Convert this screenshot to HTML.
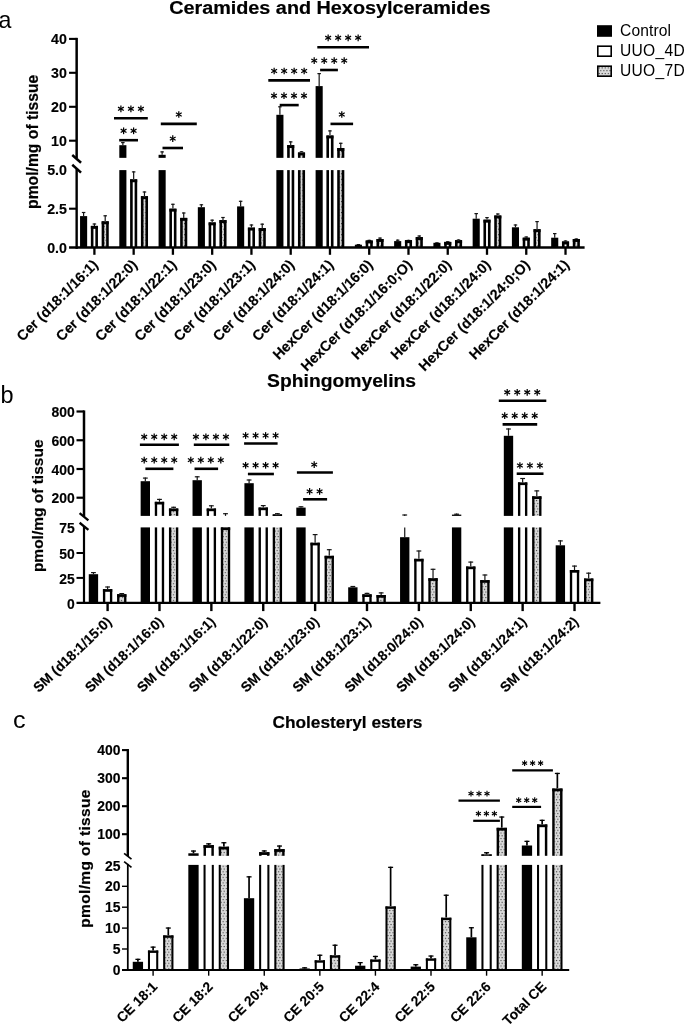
<!DOCTYPE html>
<html><head><meta charset="utf-8"><title>figure</title>
<style>html,body{margin:0;padding:0;background:#fff}svg{display:block;will-change:transform}</style></head>
<body>
<svg width="685" height="1024" viewBox="0 0 685 1024">
<defs>
<pattern id="dots" width="3.1" height="5.54" patternUnits="userSpaceOnUse">
<rect width="3.1" height="5.54" fill="#dadada"/>
<rect x="0.3" y="0.9" width="1.1" height="1.1" fill="#3a3a3a"/>
<rect x="1.85" y="3.67" width="1.1" height="1.1" fill="#3a3a3a"/>
</pattern>
</defs>
<rect width="685" height="1024" fill="#fff"/>
<g font-family="Liberation Sans, sans-serif" font-weight="bold" stroke="#000" stroke-width="0.2" text-anchor="middle">
<text font-size="19.1" x="329.8" y="13.7" textLength="321.3" lengthAdjust="spacingAndGlyphs">Ceramides and Hexosylceramides</text>
<text font-size="18.7" x="341.6" y="387" textLength="149" lengthAdjust="spacingAndGlyphs">Sphingomyelins</text>
<text font-size="17.3" x="347.4" y="727.5">Cholesteryl esters</text>
</g>
<g font-family="Liberation Sans, sans-serif">
<text font-size="23.2" x="-1.4" y="28.4">a</text><text font-size="23.5" x="0.5" y="403.3">b</text><text font-size="23.8" x="12.9" y="728.3" textLength="12.6" lengthAdjust="spacingAndGlyphs">c</text></g>
<rect x="597" y="25.2" width="15" height="11.6" fill="#000"/>
<rect x="597.8" y="46.2" width="13.4" height="10" fill="#fff" stroke="#000" stroke-width="1.6"/>
<rect x="597.8" y="66.2" width="13.4" height="10" fill="url(#dots)" stroke="#000" stroke-width="1.6"/>
<g font-family="Liberation Sans, sans-serif" font-size="15.6" letter-spacing="0.12">
<text x="620" y="35.9">Control</text><text x="620" y="55.7" letter-spacing="0.3">UUO_4D</text><text x="620" y="75.5" letter-spacing="0.3">UUO_7D</text></g>
<line x1="83.60" y1="216.10" x2="83.60" y2="211.90" stroke="#151515" stroke-width="1.20"/>
<line x1="81.85" y1="212.50" x2="85.35" y2="212.50" stroke="#151515" stroke-width="1.20"/>
<rect x="80.05" y="216.10" width="7.10" height="31.50" fill="#000"/>
<line x1="94.40" y1="225.90" x2="94.40" y2="223.40" stroke="#151515" stroke-width="1.20"/>
<line x1="92.65" y1="224.00" x2="96.15" y2="224.00" stroke="#151515" stroke-width="1.20"/>
<rect x="90.85" y="225.90" width="2.60" height="21.70" fill="#000"/>
<rect x="95.35" y="225.90" width="2.60" height="21.70" fill="#000"/>
<rect x="90.85" y="225.90" width="7.10" height="2.95" fill="#000"/>
<line x1="105.20" y1="221.30" x2="105.20" y2="215.20" stroke="#151515" stroke-width="1.20"/>
<line x1="103.45" y1="215.80" x2="106.95" y2="215.80" stroke="#151515" stroke-width="1.20"/>
<rect x="103.95" y="221.30" width="2.50" height="26.30" fill="url(#d0)"/>
<rect x="101.65" y="221.30" width="2.60" height="26.30" fill="#000"/>
<rect x="106.15" y="221.30" width="2.60" height="26.30" fill="#000"/>
<rect x="101.65" y="221.30" width="7.10" height="2.95" fill="#000"/>
<rect x="119.31" y="170.10" width="7.10" height="77.50" fill="#000"/>
<line x1="122.86" y1="145.20" x2="122.86" y2="142.00" stroke="#151515" stroke-width="1.20"/>
<line x1="121.11" y1="142.60" x2="124.61" y2="142.60" stroke="#151515" stroke-width="1.20"/>
<rect x="119.31" y="145.20" width="7.10" height="12.65" fill="#000"/>
<line x1="133.66" y1="179.30" x2="133.66" y2="171.30" stroke="#151515" stroke-width="1.20"/>
<line x1="131.91" y1="171.90" x2="135.41" y2="171.90" stroke="#151515" stroke-width="1.20"/>
<rect x="130.11" y="179.30" width="2.60" height="68.30" fill="#000"/>
<rect x="134.61" y="179.30" width="2.60" height="68.30" fill="#000"/>
<rect x="130.11" y="179.30" width="7.10" height="2.95" fill="#000"/>
<line x1="144.46" y1="196.20" x2="144.46" y2="191.40" stroke="#151515" stroke-width="1.20"/>
<line x1="142.71" y1="192.00" x2="146.21" y2="192.00" stroke="#151515" stroke-width="1.20"/>
<rect x="143.21" y="196.20" width="2.50" height="51.40" fill="url(#d1)"/>
<rect x="140.91" y="196.20" width="2.60" height="51.40" fill="#000"/>
<rect x="145.41" y="196.20" width="2.60" height="51.40" fill="#000"/>
<rect x="140.91" y="196.20" width="7.10" height="2.95" fill="#000"/>
<rect x="158.57" y="170.10" width="7.10" height="77.50" fill="#000"/>
<line x1="162.12" y1="154.80" x2="162.12" y2="151.30" stroke="#151515" stroke-width="1.20"/>
<line x1="160.37" y1="151.90" x2="163.87" y2="151.90" stroke="#151515" stroke-width="1.20"/>
<rect x="158.57" y="154.80" width="7.10" height="3.05" fill="#000"/>
<line x1="172.92" y1="208.70" x2="172.92" y2="203.70" stroke="#151515" stroke-width="1.20"/>
<line x1="171.17" y1="204.30" x2="174.67" y2="204.30" stroke="#151515" stroke-width="1.20"/>
<rect x="169.37" y="208.70" width="2.60" height="38.90" fill="#000"/>
<rect x="173.87" y="208.70" width="2.60" height="38.90" fill="#000"/>
<rect x="169.37" y="208.70" width="7.10" height="2.95" fill="#000"/>
<line x1="183.72" y1="217.90" x2="183.72" y2="212.40" stroke="#151515" stroke-width="1.20"/>
<line x1="181.97" y1="213.00" x2="185.47" y2="213.00" stroke="#151515" stroke-width="1.20"/>
<rect x="182.47" y="217.90" width="2.50" height="29.70" fill="url(#d2)"/>
<rect x="180.17" y="217.90" width="2.60" height="29.70" fill="#000"/>
<rect x="184.67" y="217.90" width="2.60" height="29.70" fill="#000"/>
<rect x="180.17" y="217.90" width="7.10" height="2.95" fill="#000"/>
<line x1="201.38" y1="207.20" x2="201.38" y2="204.20" stroke="#151515" stroke-width="1.20"/>
<line x1="199.63" y1="204.80" x2="203.13" y2="204.80" stroke="#151515" stroke-width="1.20"/>
<rect x="197.83" y="207.20" width="7.10" height="40.40" fill="#000"/>
<line x1="212.18" y1="222.40" x2="212.18" y2="219.60" stroke="#151515" stroke-width="1.20"/>
<line x1="210.43" y1="220.20" x2="213.93" y2="220.20" stroke="#151515" stroke-width="1.20"/>
<rect x="208.63" y="222.40" width="2.60" height="25.20" fill="#000"/>
<rect x="213.13" y="222.40" width="2.60" height="25.20" fill="#000"/>
<rect x="208.63" y="222.40" width="7.10" height="2.95" fill="#000"/>
<line x1="222.98" y1="220.10" x2="222.98" y2="216.90" stroke="#151515" stroke-width="1.20"/>
<line x1="221.23" y1="217.50" x2="224.73" y2="217.50" stroke="#151515" stroke-width="1.20"/>
<rect x="221.73" y="220.10" width="2.50" height="27.50" fill="url(#d3)"/>
<rect x="219.43" y="220.10" width="2.60" height="27.50" fill="#000"/>
<rect x="223.93" y="220.10" width="2.60" height="27.50" fill="#000"/>
<rect x="219.43" y="220.10" width="7.10" height="2.95" fill="#000"/>
<line x1="240.64" y1="206.40" x2="240.64" y2="200.70" stroke="#151515" stroke-width="1.20"/>
<line x1="238.89" y1="201.30" x2="242.39" y2="201.30" stroke="#151515" stroke-width="1.20"/>
<rect x="237.09" y="206.40" width="7.10" height="41.20" fill="#000"/>
<line x1="251.44" y1="227.60" x2="251.44" y2="224.40" stroke="#151515" stroke-width="1.20"/>
<line x1="249.69" y1="225.00" x2="253.19" y2="225.00" stroke="#151515" stroke-width="1.20"/>
<rect x="247.89" y="227.60" width="2.60" height="20.00" fill="#000"/>
<rect x="252.39" y="227.60" width="2.60" height="20.00" fill="#000"/>
<rect x="247.89" y="227.60" width="7.10" height="2.95" fill="#000"/>
<line x1="262.24" y1="228.10" x2="262.24" y2="223.60" stroke="#151515" stroke-width="1.20"/>
<line x1="260.49" y1="224.20" x2="263.99" y2="224.20" stroke="#151515" stroke-width="1.20"/>
<rect x="260.99" y="228.10" width="2.50" height="19.50" fill="url(#d4)"/>
<rect x="258.69" y="228.10" width="2.60" height="19.50" fill="#000"/>
<rect x="263.19" y="228.10" width="2.60" height="19.50" fill="#000"/>
<rect x="258.69" y="228.10" width="7.10" height="2.95" fill="#000"/>
<rect x="276.35" y="170.10" width="7.10" height="77.50" fill="#000"/>
<line x1="279.90" y1="114.80" x2="279.90" y2="106.20" stroke="#151515" stroke-width="1.20"/>
<line x1="278.15" y1="106.80" x2="281.65" y2="106.80" stroke="#151515" stroke-width="1.20"/>
<rect x="276.35" y="114.80" width="7.10" height="43.05" fill="#000"/>
<rect x="287.15" y="170.10" width="2.60" height="77.50" fill="#000"/>
<rect x="291.65" y="170.10" width="2.60" height="77.50" fill="#000"/>
<line x1="290.70" y1="145.10" x2="290.70" y2="141.30" stroke="#151515" stroke-width="1.20"/>
<line x1="288.95" y1="141.90" x2="292.45" y2="141.90" stroke="#151515" stroke-width="1.20"/>
<rect x="287.15" y="145.10" width="2.60" height="12.75" fill="#000"/>
<rect x="291.65" y="145.10" width="2.60" height="12.75" fill="#000"/>
<rect x="287.15" y="145.10" width="7.10" height="2.95" fill="#000"/>
<rect x="300.25" y="170.10" width="2.50" height="77.50" fill="url(#d5)"/>
<rect x="297.95" y="170.10" width="2.60" height="77.50" fill="#000"/>
<rect x="302.45" y="170.10" width="2.60" height="77.50" fill="#000"/>
<line x1="301.50" y1="152.50" x2="301.50" y2="151.20" stroke="#151515" stroke-width="1.20"/>
<line x1="299.75" y1="151.80" x2="303.25" y2="151.80" stroke="#151515" stroke-width="1.20"/>
<rect x="300.25" y="152.50" width="2.50" height="5.35" fill="url(#d5)"/>
<rect x="297.95" y="152.50" width="2.60" height="5.35" fill="#000"/>
<rect x="302.45" y="152.50" width="2.60" height="5.35" fill="#000"/>
<rect x="297.95" y="152.50" width="7.10" height="2.95" fill="#000"/>
<rect x="315.61" y="170.10" width="7.10" height="77.50" fill="#000"/>
<line x1="319.16" y1="86.10" x2="319.16" y2="73.00" stroke="#151515" stroke-width="1.20"/>
<line x1="317.41" y1="73.60" x2="320.91" y2="73.60" stroke="#151515" stroke-width="1.20"/>
<rect x="315.61" y="86.10" width="7.10" height="71.75" fill="#000"/>
<rect x="326.41" y="170.10" width="2.60" height="77.50" fill="#000"/>
<rect x="330.91" y="170.10" width="2.60" height="77.50" fill="#000"/>
<line x1="329.96" y1="135.50" x2="329.96" y2="130.30" stroke="#151515" stroke-width="1.20"/>
<line x1="328.21" y1="130.90" x2="331.71" y2="130.90" stroke="#151515" stroke-width="1.20"/>
<rect x="326.41" y="135.50" width="2.60" height="22.35" fill="#000"/>
<rect x="330.91" y="135.50" width="2.60" height="22.35" fill="#000"/>
<rect x="326.41" y="135.50" width="7.10" height="2.95" fill="#000"/>
<rect x="339.51" y="170.10" width="2.50" height="77.50" fill="url(#d6)"/>
<rect x="337.21" y="170.10" width="2.60" height="77.50" fill="#000"/>
<rect x="341.71" y="170.10" width="2.60" height="77.50" fill="#000"/>
<line x1="340.76" y1="148.00" x2="340.76" y2="142.70" stroke="#151515" stroke-width="1.20"/>
<line x1="339.01" y1="143.30" x2="342.51" y2="143.30" stroke="#151515" stroke-width="1.20"/>
<rect x="339.51" y="148.00" width="2.50" height="9.85" fill="url(#d6)"/>
<rect x="337.21" y="148.00" width="2.60" height="9.85" fill="#000"/>
<rect x="341.71" y="148.00" width="2.60" height="9.85" fill="#000"/>
<rect x="337.21" y="148.00" width="7.10" height="2.95" fill="#000"/>
<line x1="358.42" y1="244.70" x2="358.42" y2="244.00" stroke="#151515" stroke-width="1.20"/>
<line x1="356.67" y1="244.60" x2="360.17" y2="244.60" stroke="#151515" stroke-width="1.20"/>
<rect x="354.87" y="244.70" width="7.10" height="2.90" fill="#000"/>
<line x1="369.22" y1="240.50" x2="369.22" y2="239.80" stroke="#151515" stroke-width="1.20"/>
<line x1="367.47" y1="240.40" x2="370.97" y2="240.40" stroke="#151515" stroke-width="1.20"/>
<rect x="365.67" y="240.50" width="2.60" height="7.10" fill="#000"/>
<rect x="370.17" y="240.50" width="2.60" height="7.10" fill="#000"/>
<rect x="365.67" y="240.50" width="7.10" height="2.95" fill="#000"/>
<line x1="380.02" y1="239.00" x2="380.02" y2="237.50" stroke="#151515" stroke-width="1.20"/>
<line x1="378.27" y1="238.10" x2="381.77" y2="238.10" stroke="#151515" stroke-width="1.20"/>
<rect x="378.77" y="239.00" width="2.50" height="8.60" fill="url(#d7)"/>
<rect x="376.47" y="239.00" width="2.60" height="8.60" fill="#000"/>
<rect x="380.97" y="239.00" width="2.60" height="8.60" fill="#000"/>
<rect x="376.47" y="239.00" width="7.10" height="2.95" fill="#000"/>
<line x1="397.68" y1="241.10" x2="397.68" y2="239.60" stroke="#151515" stroke-width="1.20"/>
<line x1="395.93" y1="240.20" x2="399.43" y2="240.20" stroke="#151515" stroke-width="1.20"/>
<rect x="394.13" y="241.10" width="7.10" height="6.50" fill="#000"/>
<line x1="408.48" y1="240.20" x2="408.48" y2="239.80" stroke="#151515" stroke-width="1.20"/>
<line x1="406.73" y1="240.40" x2="410.23" y2="240.40" stroke="#151515" stroke-width="1.20"/>
<rect x="404.93" y="240.20" width="2.60" height="7.40" fill="#000"/>
<rect x="409.43" y="240.20" width="2.60" height="7.40" fill="#000"/>
<rect x="404.93" y="240.20" width="7.10" height="2.95" fill="#000"/>
<line x1="419.28" y1="237.10" x2="419.28" y2="235.40" stroke="#151515" stroke-width="1.20"/>
<line x1="417.53" y1="236.00" x2="421.03" y2="236.00" stroke="#151515" stroke-width="1.20"/>
<rect x="418.03" y="237.10" width="2.50" height="10.50" fill="url(#d8)"/>
<rect x="415.73" y="237.10" width="2.60" height="10.50" fill="#000"/>
<rect x="420.23" y="237.10" width="2.60" height="10.50" fill="#000"/>
<rect x="415.73" y="237.10" width="7.10" height="2.95" fill="#000"/>
<line x1="436.94" y1="242.80" x2="436.94" y2="242.30" stroke="#151515" stroke-width="1.20"/>
<line x1="435.19" y1="242.90" x2="438.69" y2="242.90" stroke="#151515" stroke-width="1.20"/>
<rect x="433.39" y="242.80" width="7.10" height="4.80" fill="#000"/>
<line x1="447.74" y1="241.90" x2="447.74" y2="241.20" stroke="#151515" stroke-width="1.20"/>
<line x1="445.99" y1="241.80" x2="449.49" y2="241.80" stroke="#151515" stroke-width="1.20"/>
<rect x="444.19" y="241.90" width="2.60" height="5.70" fill="#000"/>
<rect x="448.69" y="241.90" width="2.60" height="5.70" fill="#000"/>
<rect x="444.19" y="241.90" width="7.10" height="2.95" fill="#000"/>
<line x1="458.54" y1="240.20" x2="458.54" y2="239.40" stroke="#151515" stroke-width="1.20"/>
<line x1="456.79" y1="240.00" x2="460.29" y2="240.00" stroke="#151515" stroke-width="1.20"/>
<rect x="457.29" y="240.20" width="2.50" height="7.40" fill="url(#d9)"/>
<rect x="454.99" y="240.20" width="2.60" height="7.40" fill="#000"/>
<rect x="459.49" y="240.20" width="2.60" height="7.40" fill="#000"/>
<rect x="454.99" y="240.20" width="7.10" height="2.95" fill="#000"/>
<line x1="476.20" y1="218.70" x2="476.20" y2="213.00" stroke="#151515" stroke-width="1.20"/>
<line x1="474.45" y1="213.60" x2="477.95" y2="213.60" stroke="#151515" stroke-width="1.20"/>
<rect x="472.65" y="218.70" width="7.10" height="28.90" fill="#000"/>
<line x1="487.00" y1="219.70" x2="487.00" y2="217.00" stroke="#151515" stroke-width="1.20"/>
<line x1="485.25" y1="217.60" x2="488.75" y2="217.60" stroke="#151515" stroke-width="1.20"/>
<rect x="483.45" y="219.70" width="2.60" height="27.90" fill="#000"/>
<rect x="487.95" y="219.70" width="2.60" height="27.90" fill="#000"/>
<rect x="483.45" y="219.70" width="7.10" height="2.95" fill="#000"/>
<line x1="497.80" y1="215.50" x2="497.80" y2="213.40" stroke="#151515" stroke-width="1.20"/>
<line x1="496.05" y1="214.00" x2="499.55" y2="214.00" stroke="#151515" stroke-width="1.20"/>
<rect x="496.55" y="215.50" width="2.50" height="32.10" fill="url(#d10)"/>
<rect x="494.25" y="215.50" width="2.60" height="32.10" fill="#000"/>
<rect x="498.75" y="215.50" width="2.60" height="32.10" fill="#000"/>
<rect x="494.25" y="215.50" width="7.10" height="2.95" fill="#000"/>
<line x1="515.46" y1="227.30" x2="515.46" y2="224.40" stroke="#151515" stroke-width="1.20"/>
<line x1="513.71" y1="225.00" x2="517.21" y2="225.00" stroke="#151515" stroke-width="1.20"/>
<rect x="511.91" y="227.30" width="7.10" height="20.30" fill="#000"/>
<line x1="526.26" y1="237.70" x2="526.26" y2="236.40" stroke="#151515" stroke-width="1.20"/>
<line x1="524.51" y1="237.00" x2="528.01" y2="237.00" stroke="#151515" stroke-width="1.20"/>
<rect x="522.71" y="237.70" width="2.60" height="9.90" fill="#000"/>
<rect x="527.21" y="237.70" width="2.60" height="9.90" fill="#000"/>
<rect x="522.71" y="237.70" width="7.10" height="2.95" fill="#000"/>
<line x1="537.06" y1="229.20" x2="537.06" y2="221.00" stroke="#151515" stroke-width="1.20"/>
<line x1="535.31" y1="221.60" x2="538.81" y2="221.60" stroke="#151515" stroke-width="1.20"/>
<rect x="535.81" y="229.20" width="2.50" height="18.40" fill="url(#d11)"/>
<rect x="533.51" y="229.20" width="2.60" height="18.40" fill="#000"/>
<rect x="538.01" y="229.20" width="2.60" height="18.40" fill="#000"/>
<rect x="533.51" y="229.20" width="7.10" height="2.95" fill="#000"/>
<line x1="554.72" y1="237.70" x2="554.72" y2="233.00" stroke="#151515" stroke-width="1.20"/>
<line x1="552.97" y1="233.60" x2="556.47" y2="233.60" stroke="#151515" stroke-width="1.20"/>
<rect x="551.17" y="237.70" width="7.10" height="9.90" fill="#000"/>
<line x1="565.52" y1="241.50" x2="565.52" y2="240.40" stroke="#151515" stroke-width="1.20"/>
<line x1="563.77" y1="241.00" x2="567.27" y2="241.00" stroke="#151515" stroke-width="1.20"/>
<rect x="561.97" y="241.50" width="2.60" height="6.10" fill="#000"/>
<rect x="566.47" y="241.50" width="2.60" height="6.10" fill="#000"/>
<rect x="561.97" y="241.50" width="7.10" height="2.95" fill="#000"/>
<line x1="576.32" y1="239.00" x2="576.32" y2="238.40" stroke="#151515" stroke-width="1.20"/>
<line x1="574.57" y1="239.00" x2="578.07" y2="239.00" stroke="#151515" stroke-width="1.20"/>
<rect x="575.07" y="239.00" width="2.50" height="8.60" fill="url(#d12)"/>
<rect x="572.77" y="239.00" width="2.60" height="8.60" fill="#000"/>
<rect x="577.27" y="239.00" width="2.60" height="8.60" fill="#000"/>
<rect x="572.77" y="239.00" width="7.10" height="2.95" fill="#000"/>
<line x1="76.65" y1="248.85" x2="76.65" y2="169.10" stroke="#000" stroke-width="2.40"/>
<line x1="76.65" y1="158.15" x2="76.65" y2="37.85" stroke="#000" stroke-width="2.50"/>
<line x1="69.05" y1="247.60" x2="584.60" y2="247.60" stroke="#000" stroke-width="2.50"/>
<g stroke="#000" stroke-width="2.50">
<line x1="72.25" y1="155.00" x2="81.05" y2="162.80"/>
<line x1="72.25" y1="164.80" x2="81.05" y2="172.60"/>
</g>
<line x1="69.05" y1="38.90" x2="76.65" y2="38.90" stroke="#000" stroke-width="2.10"/>
<line x1="69.05" y1="72.80" x2="76.65" y2="72.80" stroke="#000" stroke-width="2.10"/>
<line x1="69.05" y1="106.80" x2="76.65" y2="106.80" stroke="#000" stroke-width="2.10"/>
<line x1="69.05" y1="140.70" x2="76.65" y2="140.70" stroke="#000" stroke-width="2.10"/>
<line x1="69.05" y1="208.70" x2="76.65" y2="208.70" stroke="#000" stroke-width="2.10"/>
<line x1="94.40" y1="247.60" x2="94.40" y2="254.80" stroke="#000" stroke-width="2.30"/>
<line x1="133.66" y1="247.60" x2="133.66" y2="254.80" stroke="#000" stroke-width="2.30"/>
<line x1="172.92" y1="247.60" x2="172.92" y2="254.80" stroke="#000" stroke-width="2.30"/>
<line x1="212.18" y1="247.60" x2="212.18" y2="254.80" stroke="#000" stroke-width="2.30"/>
<line x1="251.44" y1="247.60" x2="251.44" y2="254.80" stroke="#000" stroke-width="2.30"/>
<line x1="290.70" y1="247.60" x2="290.70" y2="254.80" stroke="#000" stroke-width="2.30"/>
<line x1="329.96" y1="247.60" x2="329.96" y2="254.80" stroke="#000" stroke-width="2.30"/>
<line x1="369.22" y1="247.60" x2="369.22" y2="254.80" stroke="#000" stroke-width="2.30"/>
<line x1="408.48" y1="247.60" x2="408.48" y2="254.80" stroke="#000" stroke-width="2.30"/>
<line x1="447.74" y1="247.60" x2="447.74" y2="254.80" stroke="#000" stroke-width="2.30"/>
<line x1="487.00" y1="247.60" x2="487.00" y2="254.80" stroke="#000" stroke-width="2.30"/>
<line x1="526.26" y1="247.60" x2="526.26" y2="254.80" stroke="#000" stroke-width="2.30"/>
<line x1="565.52" y1="247.60" x2="565.52" y2="254.80" stroke="#000" stroke-width="2.30"/>
<g font-family="Liberation Sans, sans-serif" font-weight="bold" stroke="#000" stroke-width="0.15" font-size="14.20" text-anchor="end">
<text x="66.90" y="44.38">40</text>
<text x="66.90" y="78.28">30</text>
<text x="66.90" y="112.28">20</text>
<text x="66.90" y="146.18">10</text>
<text x="66.90" y="175.38">5.0</text>
<text x="66.90" y="214.18">2.5</text>
<text x="66.90" y="253.08">0.0</text>
</g>
<g font-family="Liberation Sans, sans-serif" font-weight="bold" stroke="#000" stroke-width="0.15" font-size="14.40" text-anchor="end">
<text transform="translate(98.90,265.60) rotate(-45.00)">Cer (d18:1/16:1)</text>
<text transform="translate(138.16,265.60) rotate(-45.00)">Cer (d18:1/22:0)</text>
<text transform="translate(177.42,265.60) rotate(-45.00)">Cer (d18:1/22:1)</text>
<text transform="translate(216.68,265.60) rotate(-45.00)">Cer (d18:1/23:0)</text>
<text transform="translate(255.94,265.60) rotate(-45.00)">Cer (d18:1/23:1)</text>
<text transform="translate(295.20,265.60) rotate(-45.00)">Cer (d18:1/24:0)</text>
<text transform="translate(334.46,265.60) rotate(-45.00)">Cer (d18:1/24:1)</text>
<text transform="translate(373.72,265.60) rotate(-45.00)">HexCer (d18:1/16:0)</text>
<text transform="translate(412.98,265.60) rotate(-45.00)">HexCer (d18:1/16:0;O)</text>
<text transform="translate(452.24,265.60) rotate(-45.00)">HexCer (d18:1/22:0)</text>
<text transform="translate(491.50,265.60) rotate(-45.00)">HexCer (d18:1/24:0)</text>
<text transform="translate(530.76,265.60) rotate(-45.00)">HexCer (d18:1/24:0;O)</text>
<text transform="translate(570.02,265.60) rotate(-45.00)">HexCer (d18:1/24:1)</text>
</g>
<text font-family="Liberation Sans, sans-serif" font-weight="bold" stroke="#000" stroke-width="0.2" font-size="15.70" text-anchor="middle" transform="translate(38.00,141.80) rotate(-90)">pmol/mg of tissue</text>
<line x1="114.00" y1="118.20" x2="147.80" y2="118.20" stroke="#000" stroke-width="2.60"/>
<g stroke="#000" stroke-width="1.25"><line x1="120.90" y1="105.45" x2="120.90" y2="112.15"/><line x1="118.00" y1="107.12" x2="123.80" y2="110.47"/><line x1="123.80" y1="107.12" x2="118.00" y2="110.47"/><line x1="130.90" y1="105.45" x2="130.90" y2="112.15"/><line x1="128.00" y1="107.12" x2="133.80" y2="110.47"/><line x1="133.80" y1="107.12" x2="128.00" y2="110.47"/><line x1="140.90" y1="105.45" x2="140.90" y2="112.15"/><line x1="138.00" y1="107.12" x2="143.80" y2="110.47"/><line x1="143.80" y1="107.12" x2="138.00" y2="110.47"/></g>
<line x1="119.20" y1="140.20" x2="138.00" y2="140.20" stroke="#000" stroke-width="2.60"/>
<g stroke="#000" stroke-width="1.25"><line x1="123.60" y1="127.45" x2="123.60" y2="134.15"/><line x1="120.70" y1="129.12" x2="126.50" y2="132.47"/><line x1="126.50" y1="129.12" x2="120.70" y2="132.47"/><line x1="133.60" y1="127.45" x2="133.60" y2="134.15"/><line x1="130.70" y1="129.12" x2="136.50" y2="132.47"/><line x1="136.50" y1="129.12" x2="130.70" y2="132.47"/></g>
<line x1="160.80" y1="123.90" x2="196.80" y2="123.90" stroke="#000" stroke-width="2.60"/>
<g stroke="#000" stroke-width="1.25"><line x1="178.80" y1="111.15" x2="178.80" y2="117.85"/><line x1="175.90" y1="112.83" x2="181.70" y2="116.17"/><line x1="181.70" y1="112.83" x2="175.90" y2="116.17"/></g>
<line x1="162.50" y1="148.00" x2="183.00" y2="148.00" stroke="#000" stroke-width="2.60"/>
<g stroke="#000" stroke-width="1.25"><line x1="172.75" y1="135.25" x2="172.75" y2="141.95"/><line x1="169.85" y1="136.92" x2="175.65" y2="140.28"/><line x1="175.65" y1="136.92" x2="169.85" y2="140.28"/></g>
<line x1="268.30" y1="80.40" x2="310.00" y2="80.40" stroke="#000" stroke-width="2.60"/>
<g stroke="#000" stroke-width="1.25"><line x1="274.15" y1="67.65" x2="274.15" y2="74.35"/><line x1="271.25" y1="69.33" x2="277.05" y2="72.67"/><line x1="277.05" y1="69.33" x2="271.25" y2="72.67"/><line x1="284.15" y1="67.65" x2="284.15" y2="74.35"/><line x1="281.25" y1="69.33" x2="287.05" y2="72.67"/><line x1="287.05" y1="69.33" x2="281.25" y2="72.67"/><line x1="294.15" y1="67.65" x2="294.15" y2="74.35"/><line x1="291.25" y1="69.33" x2="297.05" y2="72.67"/><line x1="297.05" y1="69.33" x2="291.25" y2="72.67"/><line x1="304.15" y1="67.65" x2="304.15" y2="74.35"/><line x1="301.25" y1="69.33" x2="307.05" y2="72.67"/><line x1="307.05" y1="69.33" x2="301.25" y2="72.67"/></g>
<line x1="279.70" y1="105.10" x2="298.70" y2="105.10" stroke="#000" stroke-width="2.60"/>
<g stroke="#000" stroke-width="1.25"><line x1="274.00" y1="92.35" x2="274.00" y2="99.05"/><line x1="271.10" y1="94.02" x2="276.90" y2="97.37"/><line x1="276.90" y1="94.02" x2="271.10" y2="97.37"/><line x1="284.00" y1="92.35" x2="284.00" y2="99.05"/><line x1="281.10" y1="94.02" x2="286.90" y2="97.37"/><line x1="286.90" y1="94.02" x2="281.10" y2="97.37"/><line x1="294.00" y1="92.35" x2="294.00" y2="99.05"/><line x1="291.10" y1="94.02" x2="296.90" y2="97.37"/><line x1="296.90" y1="94.02" x2="291.10" y2="97.37"/><line x1="304.00" y1="92.35" x2="304.00" y2="99.05"/><line x1="301.10" y1="94.02" x2="306.90" y2="97.37"/><line x1="306.90" y1="94.02" x2="301.10" y2="97.37"/></g>
<line x1="317.30" y1="47.20" x2="369.00" y2="47.20" stroke="#000" stroke-width="2.60"/>
<g stroke="#000" stroke-width="1.25"><line x1="328.15" y1="34.45" x2="328.15" y2="41.15"/><line x1="325.25" y1="36.13" x2="331.05" y2="39.48"/><line x1="331.05" y1="36.13" x2="325.25" y2="39.48"/><line x1="338.15" y1="34.45" x2="338.15" y2="41.15"/><line x1="335.25" y1="36.13" x2="341.05" y2="39.48"/><line x1="341.05" y1="36.13" x2="335.25" y2="39.48"/><line x1="348.15" y1="34.45" x2="348.15" y2="41.15"/><line x1="345.25" y1="36.13" x2="351.05" y2="39.48"/><line x1="351.05" y1="36.13" x2="345.25" y2="39.48"/><line x1="358.15" y1="34.45" x2="358.15" y2="41.15"/><line x1="355.25" y1="36.13" x2="361.05" y2="39.48"/><line x1="361.05" y1="36.13" x2="355.25" y2="39.48"/></g>
<line x1="320.10" y1="70.00" x2="337.90" y2="70.00" stroke="#000" stroke-width="2.60"/>
<g stroke="#000" stroke-width="1.25"><line x1="314.20" y1="57.25" x2="314.20" y2="63.95"/><line x1="311.30" y1="58.93" x2="317.10" y2="62.27"/><line x1="317.10" y1="58.93" x2="311.30" y2="62.27"/><line x1="324.20" y1="57.25" x2="324.20" y2="63.95"/><line x1="321.30" y1="58.93" x2="327.10" y2="62.27"/><line x1="327.10" y1="58.93" x2="321.30" y2="62.27"/><line x1="334.20" y1="57.25" x2="334.20" y2="63.95"/><line x1="331.30" y1="58.93" x2="337.10" y2="62.27"/><line x1="337.10" y1="58.93" x2="331.30" y2="62.27"/><line x1="344.20" y1="57.25" x2="344.20" y2="63.95"/><line x1="341.30" y1="58.93" x2="347.10" y2="62.27"/><line x1="347.10" y1="58.93" x2="341.30" y2="62.27"/></g>
<line x1="330.50" y1="123.90" x2="353.10" y2="123.90" stroke="#000" stroke-width="2.60"/>
<g stroke="#000" stroke-width="1.25"><line x1="341.80" y1="111.15" x2="341.80" y2="117.85"/><line x1="338.90" y1="112.83" x2="344.70" y2="116.17"/><line x1="344.70" y1="112.83" x2="338.90" y2="116.17"/></g>
<line x1="93.45" y1="574.20" x2="93.45" y2="572.00" stroke="#151515" stroke-width="1.20"/>
<line x1="91.05" y1="572.60" x2="95.85" y2="572.60" stroke="#151515" stroke-width="1.20"/>
<rect x="88.77" y="574.20" width="9.35" height="28.70" fill="#000"/>
<line x1="107.60" y1="589.10" x2="107.60" y2="586.40" stroke="#151515" stroke-width="1.20"/>
<line x1="105.20" y1="587.00" x2="110.00" y2="587.00" stroke="#151515" stroke-width="1.20"/>
<rect x="102.92" y="589.10" width="2.35" height="13.80" fill="#000"/>
<rect x="109.92" y="589.10" width="2.35" height="13.80" fill="#000"/>
<rect x="102.92" y="589.10" width="9.35" height="2.70" fill="#000"/>
<line x1="121.75" y1="594.20" x2="121.75" y2="593.00" stroke="#151515" stroke-width="1.20"/>
<line x1="119.35" y1="593.60" x2="124.15" y2="593.60" stroke="#151515" stroke-width="1.20"/>
<rect x="119.12" y="594.20" width="5.25" height="8.70" fill="url(#d13)"/>
<rect x="117.08" y="594.20" width="2.35" height="8.70" fill="#000"/>
<rect x="124.08" y="594.20" width="2.35" height="8.70" fill="#000"/>
<rect x="117.08" y="594.20" width="9.35" height="2.70" fill="#000"/>
<rect x="140.65" y="527.40" width="9.35" height="75.50" fill="#000"/>
<line x1="145.33" y1="481.20" x2="145.33" y2="477.50" stroke="#151515" stroke-width="1.20"/>
<line x1="142.93" y1="478.10" x2="147.73" y2="478.10" stroke="#151515" stroke-width="1.20"/>
<rect x="140.65" y="481.20" width="9.35" height="34.70" fill="#000"/>
<rect x="154.80" y="527.40" width="2.35" height="75.50" fill="#000"/>
<rect x="161.80" y="527.40" width="2.35" height="75.50" fill="#000"/>
<line x1="159.48" y1="501.80" x2="159.48" y2="498.80" stroke="#151515" stroke-width="1.20"/>
<line x1="157.08" y1="499.40" x2="161.88" y2="499.40" stroke="#151515" stroke-width="1.20"/>
<rect x="154.80" y="501.80" width="2.35" height="14.10" fill="#000"/>
<rect x="161.80" y="501.80" width="2.35" height="14.10" fill="#000"/>
<rect x="154.80" y="501.80" width="9.35" height="2.70" fill="#000"/>
<rect x="171.00" y="527.40" width="5.25" height="75.50" fill="url(#d14)"/>
<rect x="168.95" y="527.40" width="2.35" height="75.50" fill="#000"/>
<rect x="175.95" y="527.40" width="2.35" height="75.50" fill="#000"/>
<line x1="173.63" y1="508.50" x2="173.63" y2="506.70" stroke="#151515" stroke-width="1.20"/>
<line x1="171.23" y1="507.30" x2="176.03" y2="507.30" stroke="#151515" stroke-width="1.20"/>
<rect x="171.00" y="508.50" width="5.25" height="7.40" fill="url(#d14)"/>
<rect x="168.95" y="508.50" width="2.35" height="7.40" fill="#000"/>
<rect x="175.95" y="508.50" width="2.35" height="7.40" fill="#000"/>
<rect x="168.95" y="508.50" width="9.35" height="2.70" fill="#000"/>
<rect x="192.53" y="527.40" width="9.35" height="75.50" fill="#000"/>
<line x1="197.21" y1="480.20" x2="197.21" y2="476.20" stroke="#151515" stroke-width="1.20"/>
<line x1="194.81" y1="476.80" x2="199.61" y2="476.80" stroke="#151515" stroke-width="1.20"/>
<rect x="192.53" y="480.20" width="9.35" height="35.70" fill="#000"/>
<rect x="206.69" y="527.40" width="2.35" height="75.50" fill="#000"/>
<rect x="213.69" y="527.40" width="2.35" height="75.50" fill="#000"/>
<line x1="211.36" y1="508.50" x2="211.36" y2="505.20" stroke="#151515" stroke-width="1.20"/>
<line x1="208.96" y1="505.80" x2="213.76" y2="505.80" stroke="#151515" stroke-width="1.20"/>
<rect x="206.69" y="508.50" width="2.35" height="7.40" fill="#000"/>
<rect x="213.69" y="508.50" width="2.35" height="7.40" fill="#000"/>
<rect x="206.69" y="508.50" width="9.35" height="2.70" fill="#000"/>
<rect x="222.88" y="527.40" width="5.25" height="75.50" fill="url(#d15)"/>
<rect x="220.84" y="527.40" width="2.35" height="75.50" fill="#000"/>
<rect x="227.84" y="527.40" width="2.35" height="75.50" fill="#000"/>
<rect x="220.84" y="527.40" width="9.35" height="2.70" fill="#000"/>
<line x1="225.51" y1="515.90" x2="225.51" y2="513.10" stroke="#151515" stroke-width="1.20"/>
<line x1="223.11" y1="513.70" x2="227.91" y2="513.70" stroke="#151515" stroke-width="1.20"/>
<rect x="244.41" y="527.40" width="9.35" height="75.50" fill="#000"/>
<line x1="249.09" y1="483.20" x2="249.09" y2="479.40" stroke="#151515" stroke-width="1.20"/>
<line x1="246.69" y1="480.00" x2="251.49" y2="480.00" stroke="#151515" stroke-width="1.20"/>
<rect x="244.41" y="483.20" width="9.35" height="32.70" fill="#000"/>
<rect x="258.56" y="527.40" width="2.35" height="75.50" fill="#000"/>
<rect x="265.56" y="527.40" width="2.35" height="75.50" fill="#000"/>
<line x1="263.24" y1="507.50" x2="263.24" y2="505.00" stroke="#151515" stroke-width="1.20"/>
<line x1="260.84" y1="505.60" x2="265.64" y2="505.60" stroke="#151515" stroke-width="1.20"/>
<rect x="258.56" y="507.50" width="2.35" height="8.40" fill="#000"/>
<rect x="265.56" y="507.50" width="2.35" height="8.40" fill="#000"/>
<rect x="258.56" y="507.50" width="9.35" height="2.70" fill="#000"/>
<rect x="274.76" y="527.40" width="5.25" height="75.50" fill="url(#d16)"/>
<rect x="272.71" y="527.40" width="2.35" height="75.50" fill="#000"/>
<rect x="279.71" y="527.40" width="2.35" height="75.50" fill="#000"/>
<line x1="277.39" y1="514.40" x2="277.39" y2="513.10" stroke="#151515" stroke-width="1.20"/>
<line x1="274.99" y1="513.70" x2="279.79" y2="513.70" stroke="#151515" stroke-width="1.20"/>
<rect x="274.76" y="514.40" width="5.25" height="1.50" fill="url(#d16)"/>
<rect x="272.71" y="514.40" width="2.35" height="1.50" fill="#000"/>
<rect x="279.71" y="514.40" width="2.35" height="1.50" fill="#000"/>
<rect x="272.71" y="514.40" width="9.35" height="1.50" fill="#000"/>
<rect x="296.30" y="527.40" width="9.35" height="75.50" fill="#000"/>
<line x1="300.97" y1="507.60" x2="300.97" y2="506.20" stroke="#151515" stroke-width="1.20"/>
<line x1="298.57" y1="506.80" x2="303.37" y2="506.80" stroke="#151515" stroke-width="1.20"/>
<rect x="296.30" y="507.60" width="9.35" height="8.30" fill="#000"/>
<line x1="315.12" y1="542.70" x2="315.12" y2="534.00" stroke="#151515" stroke-width="1.20"/>
<line x1="312.72" y1="534.60" x2="317.52" y2="534.60" stroke="#151515" stroke-width="1.20"/>
<rect x="310.44" y="542.70" width="2.35" height="60.20" fill="#000"/>
<rect x="317.44" y="542.70" width="2.35" height="60.20" fill="#000"/>
<rect x="310.44" y="542.70" width="9.35" height="2.70" fill="#000"/>
<line x1="329.27" y1="555.80" x2="329.27" y2="549.10" stroke="#151515" stroke-width="1.20"/>
<line x1="326.87" y1="549.70" x2="331.67" y2="549.70" stroke="#151515" stroke-width="1.20"/>
<rect x="326.64" y="555.80" width="5.25" height="47.10" fill="url(#d17)"/>
<rect x="324.59" y="555.80" width="2.35" height="47.10" fill="#000"/>
<rect x="331.59" y="555.80" width="2.35" height="47.10" fill="#000"/>
<rect x="324.59" y="555.80" width="9.35" height="2.70" fill="#000"/>
<line x1="352.85" y1="587.30" x2="352.85" y2="585.90" stroke="#151515" stroke-width="1.20"/>
<line x1="350.45" y1="586.50" x2="355.25" y2="586.50" stroke="#151515" stroke-width="1.20"/>
<rect x="348.18" y="587.30" width="9.35" height="15.60" fill="#000"/>
<line x1="367.00" y1="594.30" x2="367.00" y2="592.80" stroke="#151515" stroke-width="1.20"/>
<line x1="364.60" y1="593.40" x2="369.40" y2="593.40" stroke="#151515" stroke-width="1.20"/>
<rect x="362.32" y="594.30" width="2.35" height="8.60" fill="#000"/>
<rect x="369.32" y="594.30" width="2.35" height="8.60" fill="#000"/>
<rect x="362.32" y="594.30" width="9.35" height="2.70" fill="#000"/>
<line x1="381.15" y1="595.00" x2="381.15" y2="592.30" stroke="#151515" stroke-width="1.20"/>
<line x1="378.75" y1="592.90" x2="383.55" y2="592.90" stroke="#151515" stroke-width="1.20"/>
<rect x="378.52" y="595.00" width="5.25" height="7.90" fill="url(#d7)"/>
<rect x="376.47" y="595.00" width="2.35" height="7.90" fill="#000"/>
<rect x="383.47" y="595.00" width="2.35" height="7.90" fill="#000"/>
<rect x="376.47" y="595.00" width="9.35" height="2.70" fill="#000"/>
<line x1="404.73" y1="537.20" x2="404.73" y2="527.40" stroke="#151515" stroke-width="1.20"/>
<line x1="404.73" y1="515.90" x2="404.73" y2="514.40" stroke="#151515" stroke-width="1.20"/>
<line x1="402.33" y1="515.00" x2="407.13" y2="515.00" stroke="#151515" stroke-width="1.20"/>
<rect x="400.06" y="537.20" width="9.35" height="65.70" fill="#000"/>
<line x1="418.88" y1="558.80" x2="418.88" y2="550.40" stroke="#151515" stroke-width="1.20"/>
<line x1="416.48" y1="551.00" x2="421.28" y2="551.00" stroke="#151515" stroke-width="1.20"/>
<rect x="414.20" y="558.80" width="2.35" height="44.10" fill="#000"/>
<rect x="421.20" y="558.80" width="2.35" height="44.10" fill="#000"/>
<rect x="414.20" y="558.80" width="9.35" height="2.70" fill="#000"/>
<line x1="433.03" y1="578.20" x2="433.03" y2="568.70" stroke="#151515" stroke-width="1.20"/>
<line x1="430.63" y1="569.30" x2="435.43" y2="569.30" stroke="#151515" stroke-width="1.20"/>
<rect x="430.40" y="578.20" width="5.25" height="24.70" fill="url(#d18)"/>
<rect x="428.35" y="578.20" width="2.35" height="24.70" fill="#000"/>
<rect x="435.35" y="578.20" width="2.35" height="24.70" fill="#000"/>
<rect x="428.35" y="578.20" width="9.35" height="2.70" fill="#000"/>
<rect x="451.94" y="527.40" width="9.35" height="75.50" fill="#000"/>
<line x1="456.61" y1="514.60" x2="456.61" y2="513.60" stroke="#151515" stroke-width="1.20"/>
<line x1="454.21" y1="514.20" x2="459.01" y2="514.20" stroke="#151515" stroke-width="1.20"/>
<rect x="451.94" y="514.60" width="9.35" height="1.30" fill="#000"/>
<line x1="470.76" y1="566.50" x2="470.76" y2="561.50" stroke="#151515" stroke-width="1.20"/>
<line x1="468.36" y1="562.10" x2="473.16" y2="562.10" stroke="#151515" stroke-width="1.20"/>
<rect x="466.08" y="566.50" width="2.35" height="36.40" fill="#000"/>
<rect x="473.08" y="566.50" width="2.35" height="36.40" fill="#000"/>
<rect x="466.08" y="566.50" width="9.35" height="2.70" fill="#000"/>
<line x1="484.91" y1="580.10" x2="484.91" y2="574.40" stroke="#151515" stroke-width="1.20"/>
<line x1="482.51" y1="575.00" x2="487.31" y2="575.00" stroke="#151515" stroke-width="1.20"/>
<rect x="482.28" y="580.10" width="5.25" height="22.80" fill="url(#d19)"/>
<rect x="480.23" y="580.10" width="2.35" height="22.80" fill="#000"/>
<rect x="487.23" y="580.10" width="2.35" height="22.80" fill="#000"/>
<rect x="480.23" y="580.10" width="9.35" height="2.70" fill="#000"/>
<rect x="503.81" y="527.40" width="9.35" height="75.50" fill="#000"/>
<line x1="508.49" y1="435.80" x2="508.49" y2="428.40" stroke="#151515" stroke-width="1.20"/>
<line x1="506.09" y1="429.00" x2="510.89" y2="429.00" stroke="#151515" stroke-width="1.20"/>
<rect x="503.81" y="435.80" width="9.35" height="80.10" fill="#000"/>
<rect x="517.97" y="527.40" width="2.35" height="75.50" fill="#000"/>
<rect x="524.97" y="527.40" width="2.35" height="75.50" fill="#000"/>
<line x1="522.64" y1="482.40" x2="522.64" y2="477.90" stroke="#151515" stroke-width="1.20"/>
<line x1="520.24" y1="478.50" x2="525.04" y2="478.50" stroke="#151515" stroke-width="1.20"/>
<rect x="517.97" y="482.40" width="2.35" height="33.50" fill="#000"/>
<rect x="524.97" y="482.40" width="2.35" height="33.50" fill="#000"/>
<rect x="517.97" y="482.40" width="9.35" height="2.70" fill="#000"/>
<rect x="534.17" y="527.40" width="5.25" height="75.50" fill="url(#d20)"/>
<rect x="532.12" y="527.40" width="2.35" height="75.50" fill="#000"/>
<rect x="539.12" y="527.40" width="2.35" height="75.50" fill="#000"/>
<line x1="536.79" y1="496.30" x2="536.79" y2="490.30" stroke="#151515" stroke-width="1.20"/>
<line x1="534.39" y1="490.90" x2="539.19" y2="490.90" stroke="#151515" stroke-width="1.20"/>
<rect x="534.17" y="496.30" width="5.25" height="19.60" fill="url(#d20)"/>
<rect x="532.12" y="496.30" width="2.35" height="19.60" fill="#000"/>
<rect x="539.12" y="496.30" width="2.35" height="19.60" fill="#000"/>
<rect x="532.12" y="496.30" width="9.35" height="2.70" fill="#000"/>
<line x1="560.37" y1="545.30" x2="560.37" y2="540.30" stroke="#151515" stroke-width="1.20"/>
<line x1="557.97" y1="540.90" x2="562.77" y2="540.90" stroke="#151515" stroke-width="1.20"/>
<rect x="555.70" y="545.30" width="9.35" height="57.60" fill="#000"/>
<line x1="574.52" y1="570.00" x2="574.52" y2="565.50" stroke="#151515" stroke-width="1.20"/>
<line x1="572.12" y1="566.10" x2="576.92" y2="566.10" stroke="#151515" stroke-width="1.20"/>
<rect x="569.85" y="570.00" width="2.35" height="32.90" fill="#000"/>
<rect x="576.85" y="570.00" width="2.35" height="32.90" fill="#000"/>
<rect x="569.85" y="570.00" width="9.35" height="2.70" fill="#000"/>
<line x1="588.67" y1="578.50" x2="588.67" y2="572.60" stroke="#151515" stroke-width="1.20"/>
<line x1="586.27" y1="573.20" x2="591.07" y2="573.20" stroke="#151515" stroke-width="1.20"/>
<rect x="586.05" y="578.50" width="5.25" height="24.40" fill="url(#d21)"/>
<rect x="584.00" y="578.50" width="2.35" height="24.40" fill="#000"/>
<rect x="591.00" y="578.50" width="2.35" height="24.40" fill="#000"/>
<rect x="584.00" y="578.50" width="9.35" height="2.70" fill="#000"/>
<line x1="84.00" y1="603.98" x2="84.00" y2="526.40" stroke="#000" stroke-width="2.20"/>
<line x1="84.00" y1="516.20" x2="84.00" y2="410.40" stroke="#000" stroke-width="2.50"/>
<line x1="76.50" y1="602.90" x2="600.40" y2="602.90" stroke="#000" stroke-width="2.15"/>
<g stroke="#000" stroke-width="2.30">
<line x1="79.60" y1="513.15" x2="88.40" y2="520.35"/>
<line x1="79.60" y1="522.75" x2="88.40" y2="529.95"/>
</g>
<line x1="76.50" y1="411.50" x2="84.00" y2="411.50" stroke="#000" stroke-width="2.20"/>
<line x1="76.50" y1="440.25" x2="84.00" y2="440.25" stroke="#000" stroke-width="2.20"/>
<line x1="76.50" y1="469.00" x2="84.00" y2="469.00" stroke="#000" stroke-width="2.20"/>
<line x1="76.50" y1="497.70" x2="84.00" y2="497.70" stroke="#000" stroke-width="2.20"/>
<line x1="76.50" y1="553.00" x2="84.00" y2="553.00" stroke="#000" stroke-width="2.00"/>
<line x1="76.50" y1="577.90" x2="84.00" y2="577.90" stroke="#000" stroke-width="2.00"/>
<line x1="107.60" y1="602.90" x2="107.60" y2="611.10" stroke="#000" stroke-width="2.40"/>
<line x1="159.48" y1="602.90" x2="159.48" y2="611.10" stroke="#000" stroke-width="2.40"/>
<line x1="211.36" y1="602.90" x2="211.36" y2="611.10" stroke="#000" stroke-width="2.40"/>
<line x1="263.24" y1="602.90" x2="263.24" y2="611.10" stroke="#000" stroke-width="2.40"/>
<line x1="315.12" y1="602.90" x2="315.12" y2="611.10" stroke="#000" stroke-width="2.40"/>
<line x1="367.00" y1="602.90" x2="367.00" y2="611.10" stroke="#000" stroke-width="2.40"/>
<line x1="418.88" y1="602.90" x2="418.88" y2="611.10" stroke="#000" stroke-width="2.40"/>
<line x1="470.76" y1="602.90" x2="470.76" y2="611.10" stroke="#000" stroke-width="2.40"/>
<line x1="522.64" y1="602.90" x2="522.64" y2="611.10" stroke="#000" stroke-width="2.40"/>
<line x1="574.52" y1="602.90" x2="574.52" y2="611.10" stroke="#000" stroke-width="2.40"/>
<g font-family="Liberation Sans, sans-serif" font-weight="bold" stroke="#000" stroke-width="0.15" font-size="13.90" text-anchor="end">
<text x="74.70" y="417.18">800</text>
<text x="74.70" y="445.93">600</text>
<text x="74.70" y="474.68">400</text>
<text x="74.70" y="503.38">200</text>
<text x="74.70" y="533.28">75</text>
<text x="74.70" y="558.68">50</text>
<text x="74.70" y="583.58">25</text>
<text x="74.70" y="608.58">0</text>
</g>
<g font-family="Liberation Sans, sans-serif" font-weight="bold" stroke="#000" stroke-width="0.15" font-size="13.90" text-anchor="end">
<text transform="translate(112.50,622.80) rotate(-43.60)">SM (d18:1/15:0)</text>
<text transform="translate(164.38,622.80) rotate(-43.60)">SM (d18:1/16:0)</text>
<text transform="translate(216.26,622.80) rotate(-43.60)">SM (d18:1/16:1)</text>
<text transform="translate(268.14,622.80) rotate(-43.60)">SM (d18:1/22:0)</text>
<text transform="translate(320.02,622.80) rotate(-43.60)">SM (d18:1/23:0)</text>
<text transform="translate(371.90,622.80) rotate(-43.60)">SM (d18:1/23:1)</text>
<text transform="translate(423.78,622.80) rotate(-43.60)">SM (d18:0/24:0)</text>
<text transform="translate(475.66,622.80) rotate(-43.60)">SM (d18:1/24:0)</text>
<text transform="translate(527.54,622.80) rotate(-43.60)">SM (d18:1/24:1)</text>
<text transform="translate(579.42,622.80) rotate(-43.60)">SM (d18:1/24:2)</text>
</g>
<text font-family="Liberation Sans, sans-serif" font-weight="bold" stroke="#000" stroke-width="0.2" font-size="15.50" text-anchor="middle" transform="translate(43.00,505.80) rotate(-90)">pmol/mg of tissue</text>
<line x1="139.90" y1="444.70" x2="178.90" y2="444.70" stroke="#000" stroke-width="2.60"/>
<g stroke="#000" stroke-width="1.25"><line x1="144.20" y1="433.45" x2="144.20" y2="440.15"/><line x1="141.30" y1="435.12" x2="147.10" y2="438.48"/><line x1="147.10" y1="435.12" x2="141.30" y2="438.48"/><line x1="154.20" y1="433.45" x2="154.20" y2="440.15"/><line x1="151.30" y1="435.12" x2="157.10" y2="438.48"/><line x1="157.10" y1="435.12" x2="151.30" y2="438.48"/><line x1="164.20" y1="433.45" x2="164.20" y2="440.15"/><line x1="161.30" y1="435.12" x2="167.10" y2="438.48"/><line x1="167.10" y1="435.12" x2="161.30" y2="438.48"/><line x1="174.20" y1="433.45" x2="174.20" y2="440.15"/><line x1="171.30" y1="435.12" x2="177.10" y2="438.48"/><line x1="177.10" y1="435.12" x2="171.30" y2="438.48"/></g>
<line x1="145.40" y1="468.80" x2="173.40" y2="468.80" stroke="#000" stroke-width="2.60"/>
<g stroke="#000" stroke-width="1.25"><line x1="144.20" y1="456.75" x2="144.20" y2="463.45"/><line x1="141.30" y1="458.43" x2="147.10" y2="461.78"/><line x1="147.10" y1="458.43" x2="141.30" y2="461.78"/><line x1="154.20" y1="456.75" x2="154.20" y2="463.45"/><line x1="151.30" y1="458.43" x2="157.10" y2="461.78"/><line x1="157.10" y1="458.43" x2="151.30" y2="461.78"/><line x1="164.20" y1="456.75" x2="164.20" y2="463.45"/><line x1="161.30" y1="458.43" x2="167.10" y2="461.78"/><line x1="167.10" y1="458.43" x2="161.30" y2="461.78"/><line x1="174.20" y1="456.75" x2="174.20" y2="463.45"/><line x1="171.30" y1="458.43" x2="177.10" y2="461.78"/><line x1="177.10" y1="458.43" x2="171.30" y2="461.78"/></g>
<line x1="193.80" y1="444.70" x2="229.30" y2="444.70" stroke="#000" stroke-width="2.60"/>
<g stroke="#000" stroke-width="1.25"><line x1="195.90" y1="433.45" x2="195.90" y2="440.15"/><line x1="193.00" y1="435.12" x2="198.80" y2="438.48"/><line x1="198.80" y1="435.12" x2="193.00" y2="438.48"/><line x1="205.90" y1="433.45" x2="205.90" y2="440.15"/><line x1="203.00" y1="435.12" x2="208.80" y2="438.48"/><line x1="208.80" y1="435.12" x2="203.00" y2="438.48"/><line x1="215.90" y1="433.45" x2="215.90" y2="440.15"/><line x1="213.00" y1="435.12" x2="218.80" y2="438.48"/><line x1="218.80" y1="435.12" x2="213.00" y2="438.48"/><line x1="225.90" y1="433.45" x2="225.90" y2="440.15"/><line x1="223.00" y1="435.12" x2="228.80" y2="438.48"/><line x1="228.80" y1="435.12" x2="223.00" y2="438.48"/></g>
<line x1="194.50" y1="468.80" x2="218.10" y2="468.80" stroke="#000" stroke-width="2.60"/>
<g stroke="#000" stroke-width="1.25"><line x1="190.80" y1="456.75" x2="190.80" y2="463.45"/><line x1="187.90" y1="458.43" x2="193.70" y2="461.78"/><line x1="193.70" y1="458.43" x2="187.90" y2="461.78"/><line x1="200.80" y1="456.75" x2="200.80" y2="463.45"/><line x1="197.90" y1="458.43" x2="203.70" y2="461.78"/><line x1="203.70" y1="458.43" x2="197.90" y2="461.78"/><line x1="210.80" y1="456.75" x2="210.80" y2="463.45"/><line x1="207.90" y1="458.43" x2="213.70" y2="461.78"/><line x1="213.70" y1="458.43" x2="207.90" y2="461.78"/><line x1="220.80" y1="456.75" x2="220.80" y2="463.45"/><line x1="217.90" y1="458.43" x2="223.70" y2="461.78"/><line x1="223.70" y1="458.43" x2="217.90" y2="461.78"/></g>
<line x1="244.10" y1="443.50" x2="277.60" y2="443.50" stroke="#000" stroke-width="2.60"/>
<g stroke="#000" stroke-width="1.25"><line x1="245.60" y1="432.15" x2="245.60" y2="438.85"/><line x1="242.70" y1="433.82" x2="248.50" y2="437.18"/><line x1="248.50" y1="433.82" x2="242.70" y2="437.18"/><line x1="255.60" y1="432.15" x2="255.60" y2="438.85"/><line x1="252.70" y1="433.82" x2="258.50" y2="437.18"/><line x1="258.50" y1="433.82" x2="252.70" y2="437.18"/><line x1="265.60" y1="432.15" x2="265.60" y2="438.85"/><line x1="262.70" y1="433.82" x2="268.50" y2="437.18"/><line x1="268.50" y1="433.82" x2="262.70" y2="437.18"/><line x1="275.60" y1="432.15" x2="275.60" y2="438.85"/><line x1="272.70" y1="433.82" x2="278.50" y2="437.18"/><line x1="278.50" y1="433.82" x2="272.70" y2="437.18"/></g>
<line x1="247.90" y1="474.00" x2="273.90" y2="474.00" stroke="#000" stroke-width="2.60"/>
<g stroke="#000" stroke-width="1.25"><line x1="245.60" y1="461.95" x2="245.60" y2="468.65"/><line x1="242.70" y1="463.62" x2="248.50" y2="466.98"/><line x1="248.50" y1="463.62" x2="242.70" y2="466.98"/><line x1="255.60" y1="461.95" x2="255.60" y2="468.65"/><line x1="252.70" y1="463.62" x2="258.50" y2="466.98"/><line x1="258.50" y1="463.62" x2="252.70" y2="466.98"/><line x1="265.60" y1="461.95" x2="265.60" y2="468.65"/><line x1="262.70" y1="463.62" x2="268.50" y2="466.98"/><line x1="268.50" y1="463.62" x2="262.70" y2="466.98"/><line x1="275.60" y1="461.95" x2="275.60" y2="468.65"/><line x1="272.70" y1="463.62" x2="278.50" y2="466.98"/><line x1="278.50" y1="463.62" x2="272.70" y2="466.98"/></g>
<line x1="296.90" y1="472.50" x2="332.90" y2="472.50" stroke="#000" stroke-width="2.60"/>
<g stroke="#000" stroke-width="1.25"><line x1="314.20" y1="461.25" x2="314.20" y2="467.95"/><line x1="311.30" y1="462.93" x2="317.10" y2="466.28"/><line x1="317.10" y1="462.93" x2="311.30" y2="466.28"/></g>
<line x1="303.10" y1="499.30" x2="327.10" y2="499.30" stroke="#000" stroke-width="2.60"/>
<g stroke="#000" stroke-width="1.25"><line x1="309.60" y1="488.05" x2="309.60" y2="494.75"/><line x1="306.70" y1="489.72" x2="312.50" y2="493.07"/><line x1="312.50" y1="489.72" x2="306.70" y2="493.07"/><line x1="319.60" y1="488.05" x2="319.60" y2="494.75"/><line x1="316.70" y1="489.72" x2="322.50" y2="493.07"/><line x1="322.50" y1="489.72" x2="316.70" y2="493.07"/></g>
<line x1="498.80" y1="400.70" x2="546.30" y2="400.70" stroke="#000" stroke-width="2.60"/>
<g stroke="#000" stroke-width="1.25"><line x1="507.20" y1="388.95" x2="507.20" y2="395.65"/><line x1="504.30" y1="390.62" x2="510.10" y2="393.98"/><line x1="510.10" y1="390.62" x2="504.30" y2="393.98"/><line x1="517.20" y1="388.95" x2="517.20" y2="395.65"/><line x1="514.30" y1="390.62" x2="520.10" y2="393.98"/><line x1="520.10" y1="390.62" x2="514.30" y2="393.98"/><line x1="527.20" y1="388.95" x2="527.20" y2="395.65"/><line x1="524.30" y1="390.62" x2="530.10" y2="393.98"/><line x1="530.10" y1="390.62" x2="524.30" y2="393.98"/><line x1="537.20" y1="388.95" x2="537.20" y2="395.65"/><line x1="534.30" y1="390.62" x2="540.10" y2="393.98"/><line x1="540.10" y1="390.62" x2="534.30" y2="393.98"/></g>
<line x1="502.60" y1="424.40" x2="537.20" y2="424.40" stroke="#000" stroke-width="2.60"/>
<g stroke="#000" stroke-width="1.25"><line x1="504.70" y1="412.35" x2="504.70" y2="419.05"/><line x1="501.80" y1="414.02" x2="507.60" y2="417.38"/><line x1="507.60" y1="414.02" x2="501.80" y2="417.38"/><line x1="514.70" y1="412.35" x2="514.70" y2="419.05"/><line x1="511.80" y1="414.02" x2="517.60" y2="417.38"/><line x1="517.60" y1="414.02" x2="511.80" y2="417.38"/><line x1="524.70" y1="412.35" x2="524.70" y2="419.05"/><line x1="521.80" y1="414.02" x2="527.60" y2="417.38"/><line x1="527.60" y1="414.02" x2="521.80" y2="417.38"/><line x1="534.70" y1="412.35" x2="534.70" y2="419.05"/><line x1="531.80" y1="414.02" x2="537.60" y2="417.38"/><line x1="537.60" y1="414.02" x2="531.80" y2="417.38"/></g>
<line x1="516.70" y1="473.70" x2="543.50" y2="473.70" stroke="#000" stroke-width="2.60"/>
<g stroke="#000" stroke-width="1.25"><line x1="519.90" y1="462.15" x2="519.90" y2="468.85"/><line x1="517.00" y1="463.82" x2="522.80" y2="467.18"/><line x1="522.80" y1="463.82" x2="517.00" y2="467.18"/><line x1="529.90" y1="462.15" x2="529.90" y2="468.85"/><line x1="527.00" y1="463.82" x2="532.80" y2="467.18"/><line x1="532.80" y1="463.82" x2="527.00" y2="467.18"/><line x1="539.90" y1="462.15" x2="539.90" y2="468.85"/><line x1="537.00" y1="463.82" x2="542.80" y2="467.18"/><line x1="542.80" y1="463.82" x2="537.00" y2="467.18"/></g>
<line x1="137.90" y1="961.80" x2="137.90" y2="958.70" stroke="#000" stroke-width="1.70"/>
<line x1="135.40" y1="959.35" x2="140.40" y2="959.35" stroke="#000" stroke-width="1.30"/>
<rect x="132.75" y="961.80" width="10.30" height="8.10" fill="#000"/>
<line x1="153.10" y1="950.50" x2="153.10" y2="946.50" stroke="#000" stroke-width="1.70"/>
<line x1="150.60" y1="947.15" x2="155.60" y2="947.15" stroke="#000" stroke-width="1.30"/>
<rect x="147.95" y="950.50" width="2.05" height="19.40" fill="#000"/>
<rect x="156.20" y="950.50" width="2.05" height="19.40" fill="#000"/>
<rect x="147.95" y="950.50" width="10.30" height="2.40" fill="#000"/>
<line x1="168.30" y1="935.40" x2="168.30" y2="927.40" stroke="#000" stroke-width="1.70"/>
<line x1="165.80" y1="928.05" x2="170.80" y2="928.05" stroke="#000" stroke-width="1.30"/>
<rect x="164.90" y="935.40" width="6.80" height="34.50" fill="url(#d22)"/>
<rect x="163.15" y="935.40" width="2.05" height="34.50" fill="#000"/>
<rect x="171.40" y="935.40" width="2.05" height="34.50" fill="#000"/>
<rect x="163.15" y="935.40" width="10.30" height="2.40" fill="#000"/>
<rect x="188.33" y="864.90" width="10.30" height="105.00" fill="#000"/>
<line x1="193.48" y1="853.30" x2="193.48" y2="850.40" stroke="#000" stroke-width="1.70"/>
<line x1="190.98" y1="851.05" x2="195.98" y2="851.05" stroke="#000" stroke-width="1.30"/>
<rect x="188.33" y="853.30" width="10.30" height="2.50" fill="#000"/>
<rect x="203.53" y="864.90" width="2.05" height="105.00" fill="#000"/>
<rect x="211.78" y="864.90" width="2.05" height="105.00" fill="#000"/>
<line x1="208.68" y1="845.10" x2="208.68" y2="843.20" stroke="#000" stroke-width="1.70"/>
<line x1="206.18" y1="843.85" x2="211.18" y2="843.85" stroke="#000" stroke-width="1.30"/>
<rect x="203.53" y="845.10" width="2.45" height="10.70" fill="#000"/>
<rect x="211.38" y="845.10" width="2.45" height="10.70" fill="#000"/>
<rect x="203.53" y="845.10" width="10.30" height="2.80" fill="#000"/>
<rect x="220.48" y="864.90" width="6.80" height="105.00" fill="url(#d23)"/>
<rect x="218.73" y="864.90" width="2.05" height="105.00" fill="#000"/>
<rect x="226.98" y="864.90" width="2.05" height="105.00" fill="#000"/>
<line x1="223.88" y1="846.70" x2="223.88" y2="842.10" stroke="#000" stroke-width="1.70"/>
<line x1="221.38" y1="842.75" x2="226.38" y2="842.75" stroke="#000" stroke-width="1.30"/>
<rect x="220.88" y="846.70" width="6.00" height="9.10" fill="url(#d23)"/>
<rect x="218.73" y="846.70" width="2.45" height="9.10" fill="#000"/>
<rect x="226.58" y="846.70" width="2.45" height="9.10" fill="#000"/>
<rect x="218.73" y="846.70" width="10.30" height="2.80" fill="#000"/>
<line x1="249.06" y1="898.20" x2="249.06" y2="876.20" stroke="#000" stroke-width="1.70"/>
<line x1="246.56" y1="876.85" x2="251.56" y2="876.85" stroke="#000" stroke-width="1.30"/>
<rect x="243.91" y="898.20" width="10.30" height="71.70" fill="#000"/>
<rect x="259.11" y="864.90" width="2.05" height="105.00" fill="#000"/>
<rect x="267.36" y="864.90" width="2.05" height="105.00" fill="#000"/>
<line x1="264.26" y1="852.15" x2="264.26" y2="850.30" stroke="#000" stroke-width="1.70"/>
<line x1="261.76" y1="850.95" x2="266.76" y2="850.95" stroke="#000" stroke-width="1.30"/>
<rect x="259.11" y="852.15" width="2.45" height="3.65" fill="#000"/>
<rect x="266.96" y="852.15" width="2.45" height="3.65" fill="#000"/>
<rect x="259.11" y="852.15" width="10.30" height="2.80" fill="#000"/>
<rect x="276.06" y="864.90" width="6.80" height="105.00" fill="url(#d24)"/>
<rect x="274.31" y="864.90" width="2.05" height="105.00" fill="#000"/>
<rect x="282.56" y="864.90" width="2.05" height="105.00" fill="#000"/>
<line x1="279.46" y1="849.10" x2="279.46" y2="845.40" stroke="#000" stroke-width="1.70"/>
<line x1="276.96" y1="846.05" x2="281.96" y2="846.05" stroke="#000" stroke-width="1.30"/>
<rect x="276.46" y="849.10" width="6.00" height="6.70" fill="url(#d24)"/>
<rect x="274.31" y="849.10" width="2.45" height="6.70" fill="#000"/>
<rect x="282.16" y="849.10" width="2.45" height="6.70" fill="#000"/>
<rect x="274.31" y="849.10" width="10.30" height="2.80" fill="#000"/>
<line x1="304.64" y1="968.50" x2="304.64" y2="967.20" stroke="#000" stroke-width="1.70"/>
<line x1="302.14" y1="967.85" x2="307.14" y2="967.85" stroke="#000" stroke-width="1.30"/>
<rect x="299.49" y="968.50" width="10.30" height="1.40" fill="#000"/>
<line x1="319.84" y1="960.30" x2="319.84" y2="954.60" stroke="#000" stroke-width="1.70"/>
<line x1="317.34" y1="955.25" x2="322.34" y2="955.25" stroke="#000" stroke-width="1.30"/>
<rect x="314.69" y="960.30" width="2.05" height="9.60" fill="#000"/>
<rect x="322.94" y="960.30" width="2.05" height="9.60" fill="#000"/>
<rect x="314.69" y="960.30" width="10.30" height="2.40" fill="#000"/>
<line x1="335.04" y1="955.30" x2="335.04" y2="944.60" stroke="#000" stroke-width="1.70"/>
<line x1="332.54" y1="945.25" x2="337.54" y2="945.25" stroke="#000" stroke-width="1.30"/>
<rect x="331.64" y="955.30" width="6.80" height="14.60" fill="url(#d25)"/>
<rect x="329.89" y="955.30" width="2.05" height="14.60" fill="#000"/>
<rect x="338.14" y="955.30" width="2.05" height="14.60" fill="#000"/>
<rect x="329.89" y="955.30" width="10.30" height="2.40" fill="#000"/>
<line x1="360.22" y1="965.70" x2="360.22" y2="962.00" stroke="#000" stroke-width="1.70"/>
<line x1="357.72" y1="962.65" x2="362.72" y2="962.65" stroke="#000" stroke-width="1.30"/>
<rect x="355.07" y="965.70" width="10.30" height="4.20" fill="#000"/>
<line x1="375.42" y1="959.50" x2="375.42" y2="955.80" stroke="#000" stroke-width="1.70"/>
<line x1="372.92" y1="956.45" x2="377.92" y2="956.45" stroke="#000" stroke-width="1.30"/>
<rect x="370.27" y="959.50" width="2.05" height="10.40" fill="#000"/>
<rect x="378.52" y="959.50" width="2.05" height="10.40" fill="#000"/>
<rect x="370.27" y="959.50" width="10.30" height="2.40" fill="#000"/>
<line x1="390.62" y1="906.40" x2="390.62" y2="866.70" stroke="#000" stroke-width="1.70"/>
<line x1="388.12" y1="867.35" x2="393.12" y2="867.35" stroke="#000" stroke-width="1.30"/>
<rect x="387.22" y="906.40" width="6.80" height="63.50" fill="url(#d26)"/>
<rect x="385.47" y="906.40" width="2.05" height="63.50" fill="#000"/>
<rect x="393.72" y="906.40" width="2.05" height="63.50" fill="#000"/>
<rect x="385.47" y="906.40" width="10.30" height="2.40" fill="#000"/>
<line x1="415.80" y1="966.60" x2="415.80" y2="964.10" stroke="#000" stroke-width="1.70"/>
<line x1="413.30" y1="964.75" x2="418.30" y2="964.75" stroke="#000" stroke-width="1.30"/>
<rect x="410.65" y="966.60" width="10.30" height="3.30" fill="#000"/>
<line x1="431.00" y1="958.40" x2="431.00" y2="955.40" stroke="#000" stroke-width="1.70"/>
<line x1="428.50" y1="956.05" x2="433.50" y2="956.05" stroke="#000" stroke-width="1.30"/>
<rect x="425.85" y="958.40" width="2.05" height="11.50" fill="#000"/>
<rect x="434.10" y="958.40" width="2.05" height="11.50" fill="#000"/>
<rect x="425.85" y="958.40" width="10.30" height="2.40" fill="#000"/>
<line x1="446.20" y1="917.70" x2="446.20" y2="894.60" stroke="#000" stroke-width="1.70"/>
<line x1="443.70" y1="895.25" x2="448.70" y2="895.25" stroke="#000" stroke-width="1.30"/>
<rect x="442.80" y="917.70" width="6.80" height="52.20" fill="url(#d27)"/>
<rect x="441.05" y="917.70" width="2.05" height="52.20" fill="#000"/>
<rect x="449.30" y="917.70" width="2.05" height="52.20" fill="#000"/>
<rect x="441.05" y="917.70" width="10.30" height="2.40" fill="#000"/>
<line x1="471.38" y1="937.30" x2="471.38" y2="927.10" stroke="#000" stroke-width="1.70"/>
<line x1="468.88" y1="927.75" x2="473.88" y2="927.75" stroke="#000" stroke-width="1.30"/>
<rect x="466.23" y="937.30" width="10.30" height="32.60" fill="#000"/>
<rect x="481.43" y="864.90" width="2.05" height="105.00" fill="#000"/>
<rect x="489.68" y="864.90" width="2.05" height="105.00" fill="#000"/>
<line x1="486.58" y1="854.40" x2="486.58" y2="852.10" stroke="#000" stroke-width="1.70"/>
<line x1="484.08" y1="852.75" x2="489.08" y2="852.75" stroke="#000" stroke-width="1.30"/>
<rect x="481.43" y="854.40" width="2.45" height="1.40" fill="#000"/>
<rect x="489.28" y="854.40" width="2.45" height="1.40" fill="#000"/>
<rect x="481.43" y="854.40" width="10.30" height="1.40" fill="#000"/>
<rect x="498.38" y="864.90" width="6.80" height="105.00" fill="url(#d28)"/>
<rect x="496.63" y="864.90" width="2.05" height="105.00" fill="#000"/>
<rect x="504.88" y="864.90" width="2.05" height="105.00" fill="#000"/>
<line x1="501.78" y1="827.80" x2="501.78" y2="816.40" stroke="#000" stroke-width="1.70"/>
<line x1="499.28" y1="817.05" x2="504.28" y2="817.05" stroke="#000" stroke-width="1.30"/>
<rect x="498.78" y="827.80" width="6.00" height="28.00" fill="url(#d28)"/>
<rect x="496.63" y="827.80" width="2.45" height="28.00" fill="#000"/>
<rect x="504.48" y="827.80" width="2.45" height="28.00" fill="#000"/>
<rect x="496.63" y="827.80" width="10.30" height="2.80" fill="#000"/>
<rect x="521.81" y="864.90" width="10.30" height="105.00" fill="#000"/>
<line x1="526.96" y1="845.50" x2="526.96" y2="840.70" stroke="#000" stroke-width="1.70"/>
<line x1="524.46" y1="841.35" x2="529.46" y2="841.35" stroke="#000" stroke-width="1.30"/>
<rect x="521.81" y="845.50" width="10.30" height="10.30" fill="#000"/>
<rect x="537.01" y="864.90" width="2.05" height="105.00" fill="#000"/>
<rect x="545.26" y="864.90" width="2.05" height="105.00" fill="#000"/>
<line x1="542.16" y1="824.40" x2="542.16" y2="819.70" stroke="#000" stroke-width="1.70"/>
<line x1="539.66" y1="820.35" x2="544.66" y2="820.35" stroke="#000" stroke-width="1.30"/>
<rect x="537.01" y="824.40" width="2.45" height="31.40" fill="#000"/>
<rect x="544.86" y="824.40" width="2.45" height="31.40" fill="#000"/>
<rect x="537.01" y="824.40" width="10.30" height="2.80" fill="#000"/>
<rect x="553.96" y="864.90" width="6.80" height="105.00" fill="url(#d29)"/>
<rect x="552.21" y="864.90" width="2.05" height="105.00" fill="#000"/>
<rect x="560.46" y="864.90" width="2.05" height="105.00" fill="#000"/>
<line x1="557.36" y1="788.50" x2="557.36" y2="772.80" stroke="#000" stroke-width="1.70"/>
<line x1="554.86" y1="773.45" x2="559.86" y2="773.45" stroke="#000" stroke-width="1.30"/>
<rect x="554.36" y="788.50" width="6.00" height="67.30" fill="url(#d29)"/>
<rect x="552.21" y="788.50" width="2.45" height="67.30" fill="#000"/>
<rect x="560.06" y="788.50" width="2.45" height="67.30" fill="#000"/>
<rect x="552.21" y="788.50" width="10.30" height="2.80" fill="#000"/>
<line x1="127.80" y1="970.90" x2="127.80" y2="863.90" stroke="#000" stroke-width="1.75"/>
<line x1="127.80" y1="856.10" x2="127.80" y2="749.05" stroke="#000" stroke-width="2.40"/>
<line x1="122.00" y1="969.90" x2="569.20" y2="969.90" stroke="#000" stroke-width="2.00"/>
<g stroke="#000" stroke-width="1.70">
<line x1="124.10" y1="853.30" x2="131.50" y2="859.10"/>
<line x1="124.10" y1="861.60" x2="131.50" y2="867.40"/>
</g>
<line x1="122.00" y1="750.10" x2="127.80" y2="750.10" stroke="#000" stroke-width="2.10"/>
<line x1="122.00" y1="778.20" x2="127.80" y2="778.20" stroke="#000" stroke-width="2.10"/>
<line x1="122.00" y1="806.20" x2="127.80" y2="806.20" stroke="#000" stroke-width="2.10"/>
<line x1="122.00" y1="834.20" x2="127.80" y2="834.20" stroke="#000" stroke-width="2.10"/>
<line x1="122.00" y1="886.30" x2="127.80" y2="886.30" stroke="#000" stroke-width="1.40"/>
<line x1="122.00" y1="907.20" x2="127.80" y2="907.20" stroke="#000" stroke-width="1.40"/>
<line x1="122.00" y1="928.10" x2="127.80" y2="928.10" stroke="#000" stroke-width="1.40"/>
<line x1="122.00" y1="949.00" x2="127.80" y2="949.00" stroke="#000" stroke-width="1.40"/>
<line x1="153.10" y1="969.90" x2="153.10" y2="975.70" stroke="#000" stroke-width="1.40"/>
<line x1="208.68" y1="969.90" x2="208.68" y2="975.70" stroke="#000" stroke-width="1.40"/>
<line x1="264.26" y1="969.90" x2="264.26" y2="975.70" stroke="#000" stroke-width="1.40"/>
<line x1="319.84" y1="969.90" x2="319.84" y2="975.70" stroke="#000" stroke-width="1.40"/>
<line x1="375.42" y1="969.90" x2="375.42" y2="975.70" stroke="#000" stroke-width="1.40"/>
<line x1="431.00" y1="969.90" x2="431.00" y2="975.70" stroke="#000" stroke-width="1.40"/>
<line x1="486.58" y1="969.90" x2="486.58" y2="975.70" stroke="#000" stroke-width="1.40"/>
<line x1="542.16" y1="969.90" x2="542.16" y2="975.70" stroke="#000" stroke-width="1.40"/>
<g font-family="Liberation Sans, sans-serif" font-weight="bold" stroke="#000" stroke-width="0.15" font-size="13.90" text-anchor="end">
<text x="120.40" y="755.23">400</text>
<text x="120.40" y="783.33">300</text>
<text x="120.40" y="811.33">200</text>
<text x="120.40" y="839.33">100</text>
<text x="120.40" y="870.63">25</text>
<text x="120.40" y="891.43">20</text>
<text x="120.40" y="912.33">15</text>
<text x="120.40" y="933.23">10</text>
<text x="120.40" y="954.13">5</text>
<text x="120.40" y="975.03">0</text>
</g>
<g font-family="Liberation Sans, sans-serif" font-weight="bold" stroke="#000" stroke-width="0.15" font-size="13.80" text-anchor="end">
<text transform="translate(158.10,987.50) rotate(-45.00)">CE 18:1</text>
<text transform="translate(213.68,987.50) rotate(-45.00)">CE 18:2</text>
<text transform="translate(269.26,987.50) rotate(-45.00)">CE 20:4</text>
<text transform="translate(324.84,987.50) rotate(-45.00)">CE 20:5</text>
<text transform="translate(380.42,987.50) rotate(-45.00)">CE 22:4</text>
<text transform="translate(436.00,987.50) rotate(-45.00)">CE 22:5</text>
<text transform="translate(491.58,987.50) rotate(-45.00)">CE 22:6</text>
<text transform="translate(547.16,987.50) rotate(-45.00)">Total CE</text>
</g>
<text font-family="Liberation Sans, sans-serif" font-weight="bold" stroke="#000" stroke-width="0.2" font-size="15.50" text-anchor="middle" transform="translate(89.90,858.50) rotate(-90)" letter-spacing="0.35">pmol/mg of tissue</text>
<line x1="458.50" y1="800.70" x2="499.90" y2="800.70" stroke="#000" stroke-width="2.20"/>
<g stroke="#000" stroke-width="1.10"><line x1="471.00" y1="790.70" x2="471.00" y2="796.50"/><line x1="468.49" y1="792.15" x2="473.51" y2="795.05"/><line x1="473.51" y1="792.15" x2="468.49" y2="795.05"/><line x1="479.00" y1="790.70" x2="479.00" y2="796.50"/><line x1="476.49" y1="792.15" x2="481.51" y2="795.05"/><line x1="481.51" y1="792.15" x2="476.49" y2="795.05"/><line x1="487.00" y1="790.70" x2="487.00" y2="796.50"/><line x1="484.49" y1="792.15" x2="489.51" y2="795.05"/><line x1="489.51" y1="792.15" x2="484.49" y2="795.05"/></g>
<line x1="473.20" y1="820.80" x2="499.90" y2="820.80" stroke="#000" stroke-width="2.20"/>
<g stroke="#000" stroke-width="1.10"><line x1="478.40" y1="810.70" x2="478.40" y2="816.50"/><line x1="475.89" y1="812.15" x2="480.91" y2="815.05"/><line x1="480.91" y1="812.15" x2="475.89" y2="815.05"/><line x1="486.40" y1="810.70" x2="486.40" y2="816.50"/><line x1="483.89" y1="812.15" x2="488.91" y2="815.05"/><line x1="488.91" y1="812.15" x2="483.89" y2="815.05"/><line x1="494.40" y1="810.70" x2="494.40" y2="816.50"/><line x1="491.89" y1="812.15" x2="496.91" y2="815.05"/><line x1="496.91" y1="812.15" x2="491.89" y2="815.05"/></g>
<line x1="512.20" y1="770.30" x2="552.90" y2="770.30" stroke="#000" stroke-width="2.20"/>
<g stroke="#000" stroke-width="1.10"><line x1="524.60" y1="760.20" x2="524.60" y2="766.00"/><line x1="522.09" y1="761.65" x2="527.11" y2="764.55"/><line x1="527.11" y1="761.65" x2="522.09" y2="764.55"/><line x1="532.60" y1="760.20" x2="532.60" y2="766.00"/><line x1="530.09" y1="761.65" x2="535.11" y2="764.55"/><line x1="535.11" y1="761.65" x2="530.09" y2="764.55"/><line x1="540.60" y1="760.20" x2="540.60" y2="766.00"/><line x1="538.09" y1="761.65" x2="543.11" y2="764.55"/><line x1="543.11" y1="761.65" x2="538.09" y2="764.55"/></g>
<line x1="512.20" y1="806.90" x2="541.10" y2="806.90" stroke="#000" stroke-width="2.20"/>
<g stroke="#000" stroke-width="1.10"><line x1="518.70" y1="797.30" x2="518.70" y2="803.10"/><line x1="516.19" y1="798.75" x2="521.21" y2="801.65"/><line x1="521.21" y1="798.75" x2="516.19" y2="801.65"/><line x1="526.70" y1="797.30" x2="526.70" y2="803.10"/><line x1="524.19" y1="798.75" x2="529.21" y2="801.65"/><line x1="529.21" y1="798.75" x2="524.19" y2="801.65"/><line x1="534.70" y1="797.30" x2="534.70" y2="803.10"/><line x1="532.19" y1="798.75" x2="537.21" y2="801.65"/><line x1="537.21" y1="798.75" x2="532.19" y2="801.65"/></g>
<defs>
<pattern id="d0" x="101.65" y="0.6" width="3.15" height="5.54" patternUnits="userSpaceOnUse"><rect width="3.15" height="5.54" fill="#dadada"/><rect x="0.7" y="0.9" width="1.1" height="1.1" fill="#3a3a3a"/><rect x="1.85" y="3.67" width="1.1" height="1.1" fill="#3a3a3a"/></pattern>
<pattern id="d1" x="140.91" y="0.6" width="3.15" height="5.54" patternUnits="userSpaceOnUse"><rect width="3.15" height="5.54" fill="#dadada"/><rect x="0.7" y="0.9" width="1.1" height="1.1" fill="#3a3a3a"/><rect x="1.85" y="3.67" width="1.1" height="1.1" fill="#3a3a3a"/></pattern>
<pattern id="d2" x="180.17" y="0.6" width="3.15" height="5.54" patternUnits="userSpaceOnUse"><rect width="3.15" height="5.54" fill="#dadada"/><rect x="0.7" y="0.9" width="1.1" height="1.1" fill="#3a3a3a"/><rect x="1.85" y="3.67" width="1.1" height="1.1" fill="#3a3a3a"/></pattern>
<pattern id="d3" x="219.43" y="0.6" width="3.15" height="5.54" patternUnits="userSpaceOnUse"><rect width="3.15" height="5.54" fill="#dadada"/><rect x="0.7" y="0.9" width="1.1" height="1.1" fill="#3a3a3a"/><rect x="1.85" y="3.67" width="1.1" height="1.1" fill="#3a3a3a"/></pattern>
<pattern id="d4" x="258.69" y="0.6" width="3.15" height="5.54" patternUnits="userSpaceOnUse"><rect width="3.15" height="5.54" fill="#dadada"/><rect x="0.7" y="0.9" width="1.1" height="1.1" fill="#3a3a3a"/><rect x="1.85" y="3.67" width="1.1" height="1.1" fill="#3a3a3a"/></pattern>
<pattern id="d5" x="297.95" y="0.6" width="3.15" height="5.54" patternUnits="userSpaceOnUse"><rect width="3.15" height="5.54" fill="#dadada"/><rect x="0.7" y="0.9" width="1.1" height="1.1" fill="#3a3a3a"/><rect x="1.85" y="3.67" width="1.1" height="1.1" fill="#3a3a3a"/></pattern>
<pattern id="d6" x="337.21" y="0.6" width="3.15" height="5.54" patternUnits="userSpaceOnUse"><rect width="3.15" height="5.54" fill="#dadada"/><rect x="0.7" y="0.9" width="1.1" height="1.1" fill="#3a3a3a"/><rect x="1.85" y="3.67" width="1.1" height="1.1" fill="#3a3a3a"/></pattern>
<pattern id="d7" x="376.47" y="0.6" width="3.15" height="5.54" patternUnits="userSpaceOnUse"><rect width="3.15" height="5.54" fill="#dadada"/><rect x="0.7" y="0.9" width="1.1" height="1.1" fill="#3a3a3a"/><rect x="1.85" y="3.67" width="1.1" height="1.1" fill="#3a3a3a"/></pattern>
<pattern id="d8" x="415.73" y="0.6" width="3.15" height="5.54" patternUnits="userSpaceOnUse"><rect width="3.15" height="5.54" fill="#dadada"/><rect x="0.7" y="0.9" width="1.1" height="1.1" fill="#3a3a3a"/><rect x="1.85" y="3.67" width="1.1" height="1.1" fill="#3a3a3a"/></pattern>
<pattern id="d9" x="454.99" y="0.6" width="3.15" height="5.54" patternUnits="userSpaceOnUse"><rect width="3.15" height="5.54" fill="#dadada"/><rect x="0.7" y="0.9" width="1.1" height="1.1" fill="#3a3a3a"/><rect x="1.85" y="3.67" width="1.1" height="1.1" fill="#3a3a3a"/></pattern>
<pattern id="d10" x="494.25" y="0.6" width="3.15" height="5.54" patternUnits="userSpaceOnUse"><rect width="3.15" height="5.54" fill="#dadada"/><rect x="0.7" y="0.9" width="1.1" height="1.1" fill="#3a3a3a"/><rect x="1.85" y="3.67" width="1.1" height="1.1" fill="#3a3a3a"/></pattern>
<pattern id="d11" x="533.51" y="0.6" width="3.15" height="5.54" patternUnits="userSpaceOnUse"><rect width="3.15" height="5.54" fill="#dadada"/><rect x="0.7" y="0.9" width="1.1" height="1.1" fill="#3a3a3a"/><rect x="1.85" y="3.67" width="1.1" height="1.1" fill="#3a3a3a"/></pattern>
<pattern id="d12" x="572.77" y="0.6" width="3.15" height="5.54" patternUnits="userSpaceOnUse"><rect width="3.15" height="5.54" fill="#dadada"/><rect x="0.7" y="0.9" width="1.1" height="1.1" fill="#3a3a3a"/><rect x="1.85" y="3.67" width="1.1" height="1.1" fill="#3a3a3a"/></pattern>
<pattern id="d13" x="117.08" y="0.6" width="3.15" height="5.54" patternUnits="userSpaceOnUse"><rect width="3.15" height="5.54" fill="#dadada"/><rect x="0.7" y="0.9" width="1.1" height="1.1" fill="#3a3a3a"/><rect x="1.85" y="3.67" width="1.1" height="1.1" fill="#3a3a3a"/></pattern>
<pattern id="d14" x="168.95" y="0.6" width="3.15" height="5.54" patternUnits="userSpaceOnUse"><rect width="3.15" height="5.54" fill="#dadada"/><rect x="0.7" y="0.9" width="1.1" height="1.1" fill="#3a3a3a"/><rect x="1.85" y="3.67" width="1.1" height="1.1" fill="#3a3a3a"/></pattern>
<pattern id="d15" x="220.84" y="0.6" width="3.15" height="5.54" patternUnits="userSpaceOnUse"><rect width="3.15" height="5.54" fill="#dadada"/><rect x="0.7" y="0.9" width="1.1" height="1.1" fill="#3a3a3a"/><rect x="1.85" y="3.67" width="1.1" height="1.1" fill="#3a3a3a"/></pattern>
<pattern id="d16" x="272.71" y="0.6" width="3.15" height="5.54" patternUnits="userSpaceOnUse"><rect width="3.15" height="5.54" fill="#dadada"/><rect x="0.7" y="0.9" width="1.1" height="1.1" fill="#3a3a3a"/><rect x="1.85" y="3.67" width="1.1" height="1.1" fill="#3a3a3a"/></pattern>
<pattern id="d17" x="324.59" y="0.6" width="3.15" height="5.54" patternUnits="userSpaceOnUse"><rect width="3.15" height="5.54" fill="#dadada"/><rect x="0.7" y="0.9" width="1.1" height="1.1" fill="#3a3a3a"/><rect x="1.85" y="3.67" width="1.1" height="1.1" fill="#3a3a3a"/></pattern>
<pattern id="d18" x="428.35" y="0.6" width="3.15" height="5.54" patternUnits="userSpaceOnUse"><rect width="3.15" height="5.54" fill="#dadada"/><rect x="0.7" y="0.9" width="1.1" height="1.1" fill="#3a3a3a"/><rect x="1.85" y="3.67" width="1.1" height="1.1" fill="#3a3a3a"/></pattern>
<pattern id="d19" x="480.23" y="0.6" width="3.15" height="5.54" patternUnits="userSpaceOnUse"><rect width="3.15" height="5.54" fill="#dadada"/><rect x="0.7" y="0.9" width="1.1" height="1.1" fill="#3a3a3a"/><rect x="1.85" y="3.67" width="1.1" height="1.1" fill="#3a3a3a"/></pattern>
<pattern id="d20" x="532.12" y="0.6" width="3.15" height="5.54" patternUnits="userSpaceOnUse"><rect width="3.15" height="5.54" fill="#dadada"/><rect x="0.7" y="0.9" width="1.1" height="1.1" fill="#3a3a3a"/><rect x="1.85" y="3.67" width="1.1" height="1.1" fill="#3a3a3a"/></pattern>
<pattern id="d21" x="584.00" y="0.6" width="3.15" height="5.54" patternUnits="userSpaceOnUse"><rect width="3.15" height="5.54" fill="#dadada"/><rect x="0.7" y="0.9" width="1.1" height="1.1" fill="#3a3a3a"/><rect x="1.85" y="3.67" width="1.1" height="1.1" fill="#3a3a3a"/></pattern>
<pattern id="d22" x="163.15" y="0.6" width="3.15" height="5.54" patternUnits="userSpaceOnUse"><rect width="3.15" height="5.54" fill="#dadada"/><rect x="0.7" y="0.9" width="1.1" height="1.1" fill="#3a3a3a"/><rect x="1.85" y="3.67" width="1.1" height="1.1" fill="#3a3a3a"/></pattern>
<pattern id="d23" x="218.73" y="0.6" width="3.15" height="5.54" patternUnits="userSpaceOnUse"><rect width="3.15" height="5.54" fill="#dadada"/><rect x="0.7" y="0.9" width="1.1" height="1.1" fill="#3a3a3a"/><rect x="1.85" y="3.67" width="1.1" height="1.1" fill="#3a3a3a"/></pattern>
<pattern id="d24" x="274.31" y="0.6" width="3.15" height="5.54" patternUnits="userSpaceOnUse"><rect width="3.15" height="5.54" fill="#dadada"/><rect x="0.7" y="0.9" width="1.1" height="1.1" fill="#3a3a3a"/><rect x="1.85" y="3.67" width="1.1" height="1.1" fill="#3a3a3a"/></pattern>
<pattern id="d25" x="329.89" y="0.6" width="3.15" height="5.54" patternUnits="userSpaceOnUse"><rect width="3.15" height="5.54" fill="#dadada"/><rect x="0.7" y="0.9" width="1.1" height="1.1" fill="#3a3a3a"/><rect x="1.85" y="3.67" width="1.1" height="1.1" fill="#3a3a3a"/></pattern>
<pattern id="d26" x="385.47" y="0.6" width="3.15" height="5.54" patternUnits="userSpaceOnUse"><rect width="3.15" height="5.54" fill="#dadada"/><rect x="0.7" y="0.9" width="1.1" height="1.1" fill="#3a3a3a"/><rect x="1.85" y="3.67" width="1.1" height="1.1" fill="#3a3a3a"/></pattern>
<pattern id="d27" x="441.05" y="0.6" width="3.15" height="5.54" patternUnits="userSpaceOnUse"><rect width="3.15" height="5.54" fill="#dadada"/><rect x="0.7" y="0.9" width="1.1" height="1.1" fill="#3a3a3a"/><rect x="1.85" y="3.67" width="1.1" height="1.1" fill="#3a3a3a"/></pattern>
<pattern id="d28" x="496.63" y="0.6" width="3.15" height="5.54" patternUnits="userSpaceOnUse"><rect width="3.15" height="5.54" fill="#dadada"/><rect x="0.7" y="0.9" width="1.1" height="1.1" fill="#3a3a3a"/><rect x="1.85" y="3.67" width="1.1" height="1.1" fill="#3a3a3a"/></pattern>
<pattern id="d29" x="552.21" y="0.6" width="3.15" height="5.54" patternUnits="userSpaceOnUse"><rect width="3.15" height="5.54" fill="#dadada"/><rect x="0.7" y="0.9" width="1.1" height="1.1" fill="#3a3a3a"/><rect x="1.85" y="3.67" width="1.1" height="1.1" fill="#3a3a3a"/></pattern>
</defs>
</svg></body></html>
